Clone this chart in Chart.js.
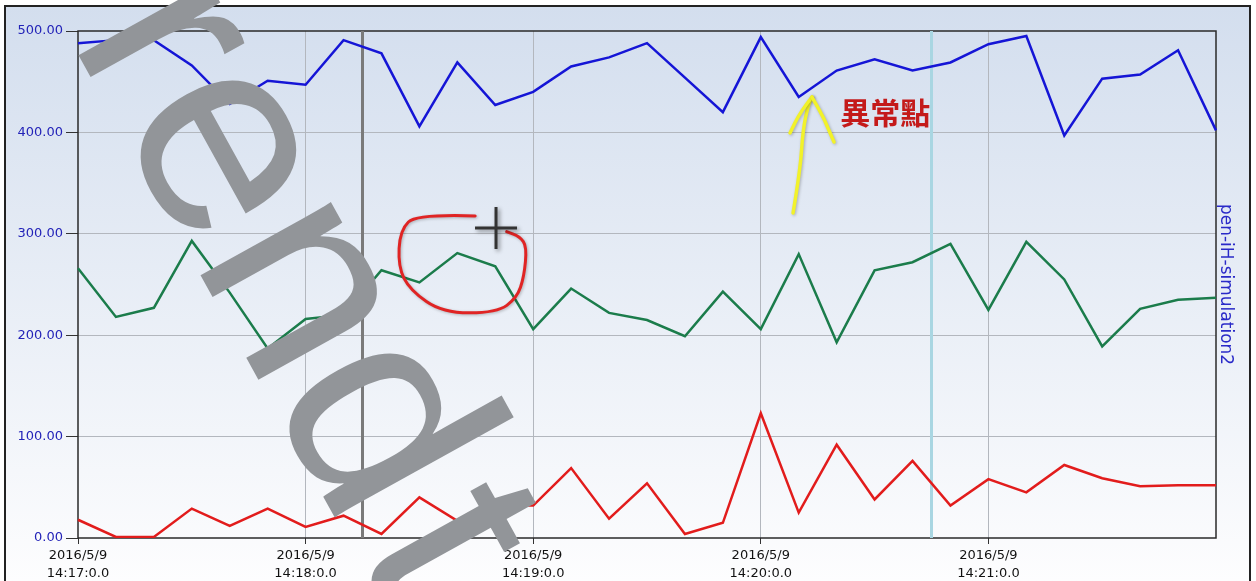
<!DOCTYPE html>
<html>
<head>
<meta charset="utf-8">
<script src="https://cdn.jsdelivr.net/npm/chart.js@4.4.1/dist/chart.umd.min.js"></script>
<style>
html, body { margin: 0; padding: 0; background: #fff; }
#wrap { width: 1256px; height: 581px; position: relative; }
</style>
</head>
<body>
<div id="wrap"><canvas id="trend"></canvas></div>
<script>
// samples every 10 s, 14:17:00 .. 14:22:00
const times = [
    '14:17:00', '14:17:10', '14:17:20', '14:17:30', '14:17:40', '14:17:50',
    '14:18:00', '14:18:10', '14:18:20', '14:18:30', '14:18:40', '14:18:50',
    '14:19:00', '14:19:10', '14:19:20', '14:19:30', '14:19:40', '14:19:50',
    '14:20:00', '14:20:10', '14:20:20', '14:20:30', '14:20:40', '14:20:50',
    '14:21:00', '14:21:10', '14:21:20', '14:21:30', '14:21:40', '14:21:50',
    '14:22:00'
];
const tickDates = ['2016/5/9', '2016/5/9', '2016/5/9', '2016/5/9', '2016/5/9'];
const tickTimes = ['14:17:0.0', '14:18:0.0', '14:19:0.0', '14:20:0.0', '14:21:0.0'];

const penBlue = [488, 491, 491, 466, 428, 451, 447, 491, 478, 406, 469, 427, 440, 465, 474, 488,
    454, 420, 494, 435, 461, 472, 461, 469, 487, 495, 397, 453, 457, 481, 402];
const penGreen = [266, 218, 227, 293, 242, 187, 216, 220, 264, 252, 281, 268, 206, 246, 222, 215,
    199, 243, 206, 280, 193, 264, 272, 290, 225, 292, 255, 189, 226, 235, 237];
const penRed = [18, 1, 1, 29, 12, 29, 11, 22, 4, 40, 17, 32, 32, 69, 19, 54,
    4, 15, 123, 25, 92, 38, 76, 32, 58, 45, 72, 59, 51, 52, 52];

// cursor positions (sample index)
const cursorAt = [7.5, 22.5];

// hand-drawn marks, in (sample index, value)
const circleMark = [[10.47, 317.6], [8.93, 319.5], [8.49, 303.7], [8.44, 267.6], [8.75, 244.6], [9.62, 221.9],
    [11.04, 222.2], [11.57, 236.7], [11.76, 257.7], [11.83, 287.3], [11.65, 297.1], [11.30, 302.1]];
const crossMark = [11.02, 305.7];
const arrowShaft = [[18.85, 320.5], [19.04, 362.9], [19.11, 402.4], [19.25, 427], [19.35, 434.9]];
const arrowLeft = [[19.35, 434.9], [19.04, 420.1], [18.77, 399.4]];
const arrowRight = [[19.35, 434.9], [19.61, 418.1], [19.77, 404.3], [19.93, 390.5]];
const noteAt = [21.28, 420];
const noteText = '異常點';

const backdrop = {
    id: 'backdrop',
    beforeDraw(chart) {
        const c = chart.ctx;
        c.save();
        c.fillStyle = '#fff';
        c.fillRect(0, 0, chart.width, chart.height);
        const g = c.createLinearGradient(0, 6, 0, chart.height);
        g.addColorStop(0, '#d3deee');
        g.addColorStop(1, '#fdfdfe');
        c.fillStyle = g;
        c.fillRect(5, 6, 1245, chart.height);
        c.strokeStyle = '#222';
        c.lineWidth = 2;
        c.strokeRect(5, 6, 1245, chart.height + 10);
        c.restore();
    },
    beforeDatasetsDraw(chart) {
        const c = chart.ctx;
        const { left, right, top, bottom } = chart.chartArea;
        const x = chart.scales.x;
        c.save();
        c.strokeStyle = '#2a2a2a';
        c.lineWidth = 1.5;
        c.strokeRect(left, top, right - left, bottom - top);
        // cursors
        const cursorColors = ['#7a7a7a', '#a9d6e2'];
        cursorAt.forEach((pos, k) => {
            const px = x.getPixelForValue(pos);
            c.strokeStyle = cursorColors[k];
            c.lineWidth = 3;
            c.beginPath();
            c.moveTo(px, top);
            c.lineTo(px, bottom);
            c.stroke();
        });
        c.restore();
    }
};

function toPx(chart, p) {
    return [chart.scales.x.getPixelForValue(p[0]), chart.scales.y.getPixelForValue(p[1])];
}

function freehand(c, pts) {
    c.beginPath();
    c.moveTo(pts[0][0], pts[0][1]);
    for (let i = 1; i < pts.length - 1; i++) {
        const mx = (pts[i][0] + pts[i + 1][0]) / 2;
        const my = (pts[i][1] + pts[i + 1][1]) / 2;
        c.quadraticCurveTo(pts[i][0], pts[i][1], mx, my);
    }
    const last = pts[pts.length - 1];
    c.lineTo(last[0], last[1]);
    c.stroke();
}

const marks = {
    id: 'marks',
    afterDraw(chart) {
        const c = chart.ctx;
        c.save();
        c.lineCap = 'round';
        c.lineJoin = 'round';

        // red circle
        c.shadowColor = 'rgba(0,0,0,0.25)';
        c.shadowBlur = 3;
        c.shadowOffsetX = 1;
        c.shadowOffsetY = 1;
        c.strokeStyle = '#e02424';
        c.lineWidth = 3;
        freehand(c, circleMark.map(p => toPx(chart, p)));

        // yellow arrow
        c.strokeStyle = '#f2f22a';
        c.lineWidth = 3.5;
        freehand(c, arrowShaft.map(p => toPx(chart, p)));
        freehand(c, arrowLeft.map(p => toPx(chart, p)));
        freehand(c, arrowRight.map(p => toPx(chart, p)));

        // crosshair
        const [cx, cy] = toPx(chart, crossMark);
        c.shadowColor = 'rgba(0,0,0,0.45)';
        c.shadowBlur = 4;
        c.shadowOffsetX = 2;
        c.shadowOffsetY = 2;
        c.strokeStyle = '#333';
        c.lineWidth = 3;
        c.lineCap = 'butt';
        c.beginPath();
        c.moveTo(cx - 21, cy); c.lineTo(cx + 21, cy);
        c.moveTo(cx, cy - 21); c.lineTo(cx, cy + 21);
        c.stroke();

        // note
        c.shadowColor = 'transparent';
        const [nx, ny] = toPx(chart, noteAt);
        c.fillStyle = '#c41a1a';
        c.font = 'bold 30px "Noto Sans CJK TC"';
        c.textAlign = 'center';
        c.textBaseline = 'middle';
        c.fillText(noteText, nx, ny);

        // watermark
        c.translate(69, 38);
        c.rotate(61 * Math.PI / 180);
        c.fillStyle = '#929599';
        c.font = '283px "Liberation Sans"';
        c.textAlign = 'left';
        c.textBaseline = 'alphabetic';
        c.fillText('rend', 0, 0);
        c.fillText('t', c.measureText('rend').width + 20, 0);
        c.restore();
    }
};

function line(data, color) {
    return {
        data: data,
        borderColor: color,
        borderWidth: 2.5,
        pointRadius: 0,
        tension: 0,
        fill: false,
        yAxisID: 'y',
    };
}

new Chart(document.getElementById('trend').getContext('2d'), {
    type: 'line',
    data: {
        labels: times,
        datasets: [
            line(penBlue, '#1515d6'),
            line(penGreen, '#1b7c4b'),
            line(penRed, '#e21c1c'),
        ],
    },
    options: {
        responsive: true,
        maintainAspectRatio: false,
        animation: false,
        layout: { padding: { top: 31, left: 0, right: 0, bottom: 0 } },
        plugins: {
            legend: { display: false },
            tooltip: { enabled: false },
        },
        scales: {
            x: {
                type: 'category',
                offset: false,
                border: { display: false },
                grid: {
                    color: ctx => (ctx.index % 6 === 0 && ctx.index > 0 && ctx.index < 30) ? '#b3b7be' : 'transparent',
                    tickColor: ctx => (ctx.index % 6 === 0 && ctx.index < 30) ? '#333' : 'transparent',
                    tickLength: 6,
                    lineWidth: 1,
                },
                ticks: {
                    autoSkip: false,
                    maxRotation: 0,
                    minRotation: 0,
                    padding: 3,
                    color: '#111',
                    font: { family: 'DejaVu Sans', size: 13, lineHeight: 1.36 },
                    callback: (val, i) => (i % 6 === 0 && i < 30) ? [tickDates[i / 6], tickTimes[i / 6]] : '',
                },
                afterFit(s) { s.height = 43; },
            },
            y: {
                position: 'left',
                min: 0,
                max: 500,
                border: { display: false },
                grid: {
                    color: ctx => (ctx.tick && ctx.tick.value > 0 && ctx.tick.value < 500) ? '#b3b7be' : 'transparent',
                    tickColor: '#333',
                    tickLength: 12,
                },
                ticks: {
                    stepSize: 100,
                    padding: 3,
                    color: '#2323b8',
                    font: { family: 'DejaVu Sans', size: 13 },
                    callback: v => v.toFixed(2),
                },
                afterFit(s) { s.width = 78; },
            },
            y2: {
                position: 'right',
                min: 0,
                max: 500,
                border: { display: false },
                grid: { display: false, drawTicks: false },
                ticks: { display: false },
                title: {
                    display: true,
                    text: 'pen-iH-simulation2',
                    color: '#2a2ac8',
                    font: { family: 'DejaVu Sans', size: 17 },
                    padding: { top: 20, bottom: 0 },
                },
                afterFit(s) { s.width = 40; },
            },
        },
    },
    plugins: [backdrop, marks],
});
</script>
</body>
</html>
